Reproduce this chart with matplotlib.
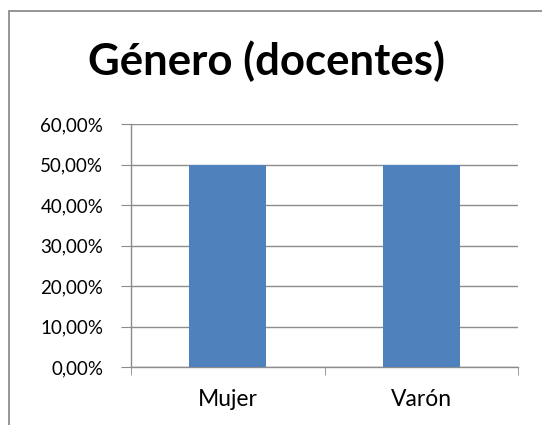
import matplotlib
matplotlib.use("Agg")
import matplotlib.pyplot as plt
from matplotlib.patches import Rectangle
from matplotlib.ticker import FuncFormatter

# datos
categorias = ["Mujer", "Varón"]
valores = [0.50, 0.50]
titulo = "Género (docentes)"

W, H = 542, 425
fig = plt.figure(figsize=(W / 100, H / 100), dpi=100)
plt.rcParams['font.family'] = ['Lato', 'DejaVu Sans']

# borde del grafico (se sale por la derecha y abajo)
fig.patches.append(Rectangle((9 / W, -0.1), 1.2, 1 - 11 / H + 0.1,
                             transform=fig.transFigure, fill=False,
                             edgecolor='#8c8c8c', linewidth=1.3))

# area de trazado en pixeles
x0, x1 = 131, 518
y0, y1 = 124, 367
ax = fig.add_axes([x0 / W, 1 - y1 / H, (x1 - x0) / W, (y1 - y0) / H])

pos = range(len(categorias))
ax.bar(pos, valores, width=0.4, color='#4F81BD', zorder=3)
ax.set_xlim(-0.5, len(categorias) - 0.5)
ax.set_ylim(0, 0.6)
ax.set_yticks([i / 10 for i in range(7)])
ax.yaxis.set_major_formatter(FuncFormatter(lambda v, p: f"{v*100:.2f}%".replace('.', ',')))
ax.set_xticks(list(pos))
ax.set_xticklabels(categorias)
ax.set_xticks([-0.5, 0.5, 1.5], minor=True)

ax.grid(axis='y', color='#8c8c8c', linewidth=1, zorder=0)
for s in ['top', 'right']:
    ax.spines[s].set_visible(False)
for s in ['left', 'bottom']:
    ax.spines[s].set_color('#8c8c8c')
    ax.spines[s].set_linewidth(1)

ax.tick_params(axis='y', length=7, color='#8c8c8c', labelsize=13.5, pad=13)
ax.tick_params(axis='x', which='major', length=0, labelsize=16.5, pad=16)
ax.tick_params(axis='x', which='minor', length=6, color='#8c8c8c')

fig.text(267 / W, 1 - 61 / H, titulo, ha='center', va='center',
         fontsize=31.5, fontweight='bold')

fig.savefig("out.png", dpi=100)
